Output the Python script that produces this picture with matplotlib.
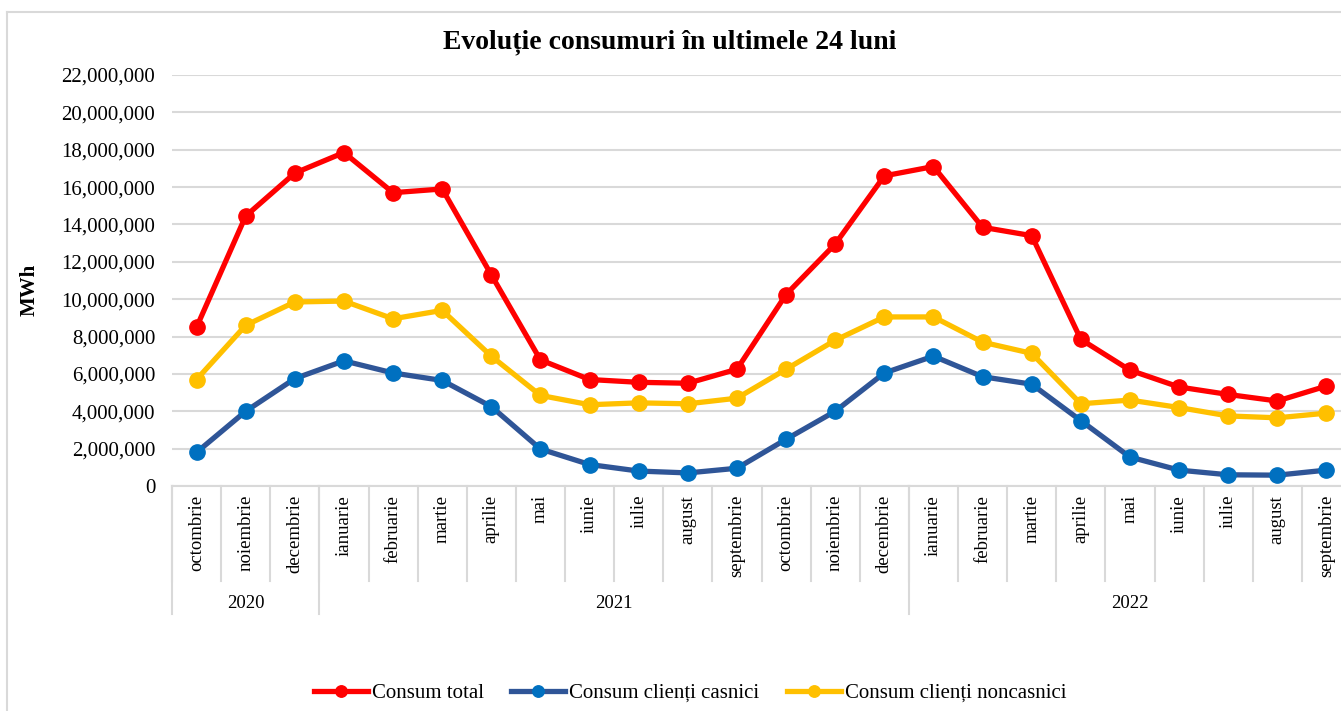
import numpy as np
import matplotlib.pyplot as plt
from matplotlib.lines import Line2D
from matplotlib.ticker import FuncFormatter
import matplotlib.transforms as mtransforms

plt.rcParams['font.family'] = ['Liberation Serif', 'DejaVu Serif']

# data (MWh)
months = ['octombrie', 'noiembrie', 'decembrie', 'ianuarie', 'februarie', 'martie',
          'aprilie', 'mai', 'iunie', 'iulie', 'august', 'septembrie',
          'octombrie', 'noiembrie', 'decembrie', 'ianuarie', 'februarie', 'martie',
          'aprilie', 'mai', 'iunie', 'iulie', 'august', 'septembrie']
years = ['2020', '2021', '2022']
year_counts = [3, 12, 9]

consum_total = [8.5, 14.45, 16.75, 17.85, 15.7, 15.9, 11.3, 6.75, 5.7, 5.55, 5.5, 6.25,
                10.25, 12.95, 16.6, 17.1, 13.85, 13.4, 7.85, 6.2, 5.3, 4.9, 4.55, 5.35]
consum_casnici = [1.8, 4.0, 5.75, 6.7, 6.05, 5.65, 4.25, 1.98, 1.15, 0.8, 0.7, 0.95,
                  2.5, 4.0, 6.05, 6.95, 5.85, 5.45, 3.5, 1.55, 0.85, 0.6, 0.58, 0.85]
consum_noncasnici = [5.7, 8.6, 9.85, 9.9, 8.95, 9.4, 6.95, 4.85, 4.35, 4.45, 4.4, 4.7,
                     6.25, 7.8, 9.05, 9.05, 7.7, 7.1, 4.4, 4.6, 4.2, 3.75, 3.65, 3.9]

W, H = 1341, 711
fig = plt.figure(figsize=(W / 100, H / 100), dpi=100)
ax = fig.add_axes([172 / W, 1 - 486 / H, (1351 - 172) / W, (486 - 75) / H])

x = np.arange(len(months))
series = [
    (consum_total, 'Consum total', '#FF0000', '#FF0000'),
    (consum_casnici, 'Consum clienți casnici', '#2F5597', '#0070C0'),
    (consum_noncasnici, 'Consum clienți noncasnici', '#FFC000', '#FFC000'),
]
for vals, lab, lc, mc in series:
    ax.plot(x, np.array(vals) * 1e6, color=lc, lw=3.8, marker='o', ms=11,
            markerfacecolor=mc, markeredgecolor=mc, label=lab, clip_on=False, zorder=3)

ax.set_xlim(-0.5, len(months) - 0.5)
ax.set_ylim(0, 22e6)
ax.set_yticks(np.arange(0, 22e6 + 1, 2e6))
ax.yaxis.set_major_formatter(FuncFormatter(lambda v, p: f'{int(v):,}'))
ax.tick_params(axis='y', length=0, pad=12, labelsize=15)
ax.set_xticks([])
ax.grid(axis='y', color='#D9D9D9', lw=1.5)
ax.set_axisbelow(True)
for s in ['top', 'right', 'left']:
    ax.spines[s].set_visible(False)
ax.spines['bottom'].set_color('#D9D9D9')
ax.spines['bottom'].set_linewidth(1.5)

# category axis with two levels
trans = mtransforms.blended_transform_factory(ax.transData, fig.transFigure)
y0 = 1 - 486 / H
y_month = 1 - 581 / H
y_year = 1 - 614 / H
for i, m in enumerate(months):
    ax.text(i, 1 - 495 / H, m, transform=trans, rotation=90, ha='center', va='top',
            fontsize=13.5)
    ax.add_line(Line2D([i - 0.5, i - 0.5], [y0, y_month], transform=trans,
                       color='#D9D9D9', lw=1.5, clip_on=False))
start = 0
for yr, n in zip(years, year_counts):
    ax.add_line(Line2D([start - 0.5, start - 0.5], [y0, y_year], transform=trans,
                       color='#D9D9D9', lw=1.5, clip_on=False))
    ax.text(start + (n - 1) / 2, 1 - 604 / H, yr, transform=trans, ha='center',
            va='center', fontsize=13.5)
    start += n

ax.set_ylabel('MWh', fontsize=15, fontweight='bold')
ax.yaxis.set_label_coords(40 / W, 1 - 290 / H, transform=fig.transFigure)

fig.text(670 / W, 1 - 42 / H, 'Evoluție consumuri în ultimele 24 luni',
         ha='center', va='center', fontsize=20, fontweight='bold')

fig.legend(loc='center', bbox_to_anchor=(690 / W, 1 - 693 / H), ncol=3, frameon=False,
           fontsize=15, handlelength=2.6, columnspacing=1.3, handletextpad=0.2,
           markerscale=0.75)

# outer chart border
fig.add_artist(Line2D([7 / W, 7 / W], [0, 1 - 12 / H], color='#D9D9D9', lw=1.5))
fig.add_artist(Line2D([7 / W, 1], [1 - 12 / H, 1 - 12 / H], color='#D9D9D9', lw=1.5))

fig.savefig('out.png', dpi=100)
